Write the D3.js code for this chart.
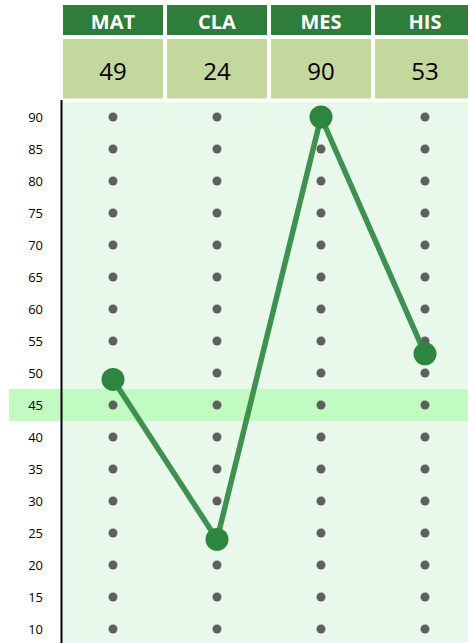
<!DOCTYPE html>
<html>
<head>
<meta charset="utf-8">
<script src="https://cdn.jsdelivr.net/npm/d3@7"></script>
<style>
  body { margin: 0; background: #ffffff; }
  svg { display: block; }
</style>
</head>
<body>
<div id="chart"></div>
<script>
// chart data
var subjects = ['MAT', 'CLA', 'MES', 'HIS'];
var scores = [49, 24, 90, 53];
var tickValues = [90, 85, 80, 75, 70, 65, 60, 55, 50, 45, 40, 35, 30, 25, 20, 15, 10];
var highlightValue = 45;

var width = 468;
var height = 643;

var svg = d3
    .select('#chart')
    .append('svg')
    .attr('width', width)
    .attr('height', height);

// columns: 100px wide cells with 4px gaps, the last one runs off the edge
var x = d3.scaleBand()
    .domain(subjects)
    .range([63, 475])
    .paddingInner(0.0385)
    .paddingOuter(0);

// values (5 units = 32px)
var y = d3.scaleLinear()
    .domain([10, 90])
    .range([629, 117]);

var step = y(0) - y(5);

// plot background
svg.append('rect')
    .attr('x', 63)
    .attr('y', 102)
    .attr('width', width - 63)
    .attr('height', height - 102)
    .style('fill', '#e8f9ec');

// highlight band
svg.append('rect')
    .attr('x', 9)
    .attr('y', y(highlightValue) - step / 2)
    .attr('width', width - 9)
    .attr('height', step)
    .style('fill', '#c2fbc2');

// header cells
var head = svg.append('g').attr('class', 'header');
head.selectAll('.head-cell')
    .data(subjects)
    .enter()
    .append('rect')
    .attr('class', 'head-cell')
    .attr('x', function(d) { return x(d); })
    .attr('y', 5)
    .attr('width', x.bandwidth())
    .attr('height', 30)
    .style('fill', '#2e7d3a');

head.selectAll('.head-text')
    .data(subjects)
    .enter()
    .append('text')
    .attr('class', 'head-text')
    .attr('x', function(d) { return x(d) + x.bandwidth() / 2; })
    .attr('y', 21)
    .attr('text-anchor', 'middle')
    .attr('dominant-baseline', 'central')
    .style('font-family', '"Open Sans", sans-serif')
    .style('font-weight', 'bold')
    .style('font-size', '20px')
    .style('fill', '#ffffff')
    .text(function(d) { return d; });

// value cells
head.selectAll('.val-cell')
    .data(subjects)
    .enter()
    .append('rect')
    .attr('class', 'val-cell')
    .attr('x', function(d) { return x(d); })
    .attr('y', 39)
    .attr('width', x.bandwidth())
    .attr('height', 59.5)
    .style('fill', '#c4d79d');

head.selectAll('.val-text')
    .data(subjects)
    .enter()
    .append('text')
    .attr('class', 'val-text')
    .attr('x', function(d) { return x(d) + x.bandwidth() / 2; })
    .attr('y', 70)
    .attr('text-anchor', 'middle')
    .attr('dominant-baseline', 'central')
    .style('font-family', '"Open Sans", sans-serif')
    .style('font-size', '24px')
    .style('fill', '#000000')
    .text(function(d, i) { return scores[i]; });

// y axis
var axis = svg.append('g')
    .attr('class', 'y-axis')
    .attr('transform', 'translate(61,0)')
    .call(d3.axisLeft(y).tickValues(tickValues).tickSize(0).tickPadding(18));
axis.select('.domain').remove();
axis.selectAll('text')
    .style('font-family', '"Open Sans", sans-serif')
    .style('font-size', '13px')
    .style('fill', '#000000');

svg.append('line')
    .attr('x1', 61.5)
    .attr('x2', 61.5)
    .attr('y1', 100)
    .attr('y2', height)
    .style('stroke', '#000000')
    .style('stroke-width', 2);

// grid dots
var cx = function(d) { return x(d) + x.bandwidth() / 2; };
var dots = [];
subjects.forEach(function(s) {
    tickValues.forEach(function(v) { dots.push({ s: s, v: v }); });
});
svg.append('g')
    .selectAll('circle')
    .data(dots)
    .enter()
    .append('circle')
    .attr('cx', function(d) { return cx(d.s); })
    .attr('cy', function(d) { return y(d.v); })
    .attr('r', 4.5)
    .style('fill', '#5f5f5f');

// score line
var line = d3.line()
    .x(function(d, i) { return cx(subjects[i]); })
    .y(function(d) { return y(d); });

svg.append('path')
    .datum(scores)
    .attr('d', line)
    .style('fill', 'none')
    .style('stroke', '#2e8540')
    .style('stroke-width', 5.5)
    .style('opacity', 0.9);

svg.append('g')
    .selectAll('circle')
    .data(scores)
    .enter()
    .append('circle')
    .attr('cx', function(d, i) { return cx(subjects[i]); })
    .attr('cy', function(d) { return y(d); })
    .attr('r', 11.5)
    .style('fill', '#2e8540');
</script>
</body>
</html>
